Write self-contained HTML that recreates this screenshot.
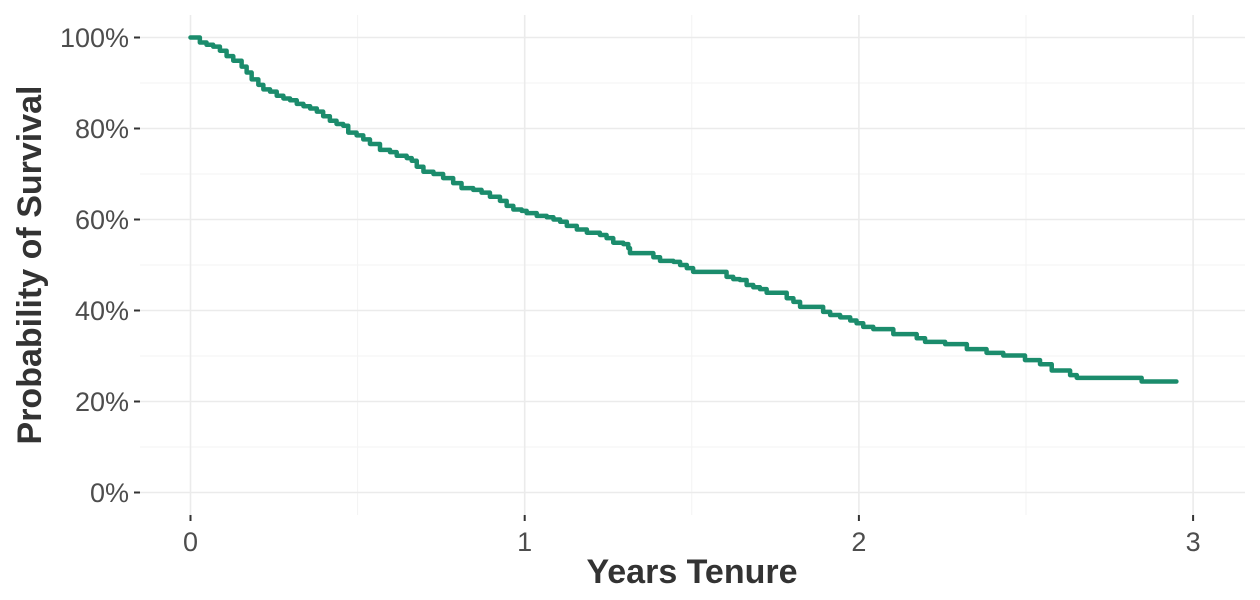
<!DOCTYPE html>
<html><head><meta charset="utf-8"><style>
html,body{margin:0;padding:0;background:#fff;width:1260px;height:600px;overflow:hidden}
text{font-family:"Liberation Sans",sans-serif}
</style></head><body>
<svg id="chart" width="1260" height="600" xmlns="http://www.w3.org/2000/svg">
<g id="grid"></g>
<g id="axes"></g>
<path id="curve" fill="none" stroke="#1B8C6C" stroke-width="4.5" stroke-linejoin="round" stroke-linecap="round"/>
<text x="692" y="583" text-anchor="middle" font-size="34" font-weight="bold" fill="#333">Years Tenure</text>
<text transform="translate(41,265) rotate(-90)" text-anchor="middle" font-size="34" font-weight="bold" fill="#333">Probability of Survival</text>
</svg>
<script>
const times=[0,.028,.048,.068,.088,.108,.128,.153,.168,.183,.203,.218,.238,.258,.278,.298,.318,.338,.358,.378,.397,.417,.437,.457,.472,.497,.517,.537,.567,.597,.617,.647,.662,.677,.697,.727,.756,.786,.811,.846,.871,.896,.926,.946,.966,.991,1.006,1.036,1.066,1.086,1.106,1.126,1.156,1.186,1.225,1.245,1.265,1.295,1.310,1.315,1.385,1.405,1.445,1.465,1.485,1.504,1.604,1.624,1.644,1.664,1.684,1.704,1.724,1.784,1.804,1.824,1.893,1.914,1.944,1.974,1.993,2.013,2.043,2.103,2.173,2.198,2.258,2.323,2.382,2.432,2.497,2.542,2.577,2.632,2.652,2.846];
const survival=[100,98.9,98.4,98.0,97.1,95.9,94.9,93.6,92.3,90.8,89.6,88.6,88.1,87.2,86.6,86.2,85.4,84.9,84.4,83.7,82.7,81.7,81.0,80.6,79.1,78.5,77.6,76.6,75.3,74.8,74.0,73.5,72.9,71.6,70.5,70.0,69.1,68.0,66.9,66.5,65.9,65.0,64.1,63.0,62.2,61.9,61.4,60.8,60.5,60.0,59.5,58.6,57.8,57.1,56.6,55.9,54.9,54.6,53.7,52.6,51.7,50.9,50.7,50.0,49.3,48.5,47.4,46.9,46.7,45.6,45.1,44.7,43.9,42.7,41.9,40.8,39.7,39.0,38.5,37.8,37.2,36.4,35.9,34.8,33.9,33.1,32.6,31.5,30.7,30.1,29.1,28.2,26.8,25.8,25.2,24.4];
const endTime=2.95;
const xTicks=[0,1,2,3];
const xMinor=[0.5,1.5,2.5];
const yTicks=[0,20,40,60,80,100];
const yMinor=[10,30,50,70,90];
const xs=t=>190.5+t*334.2;
const ys=v=>492.5-v*4.55;
const NS="http://www.w3.org/2000/svg";
const grid=document.getElementById('grid'),axes=document.getElementById('axes');
function line(p,x1,y1,x2,y2,c,w){const l=document.createElementNS(NS,'line');l.setAttribute('x1',x1);l.setAttribute('y1',y1);l.setAttribute('x2',x2);l.setAttribute('y2',y2);l.setAttribute('stroke',c);l.setAttribute('stroke-width',w);p.appendChild(l);return l;}
function txt(p,x,y,s,a){const t=document.createElementNS(NS,'text');t.setAttribute('x',x);t.setAttribute('y',y);t.setAttribute('text-anchor',a);t.setAttribute('font-size','27');t.setAttribute('fill','#4d4d4d');t.textContent=s;p.appendChild(t);return t;}
xMinor.forEach(t=>{const l=line(grid,xs(t),15,xs(t),515,'#f3f3f3',1);

});
yMinor.forEach(v=>{const l=line(grid,140,ys(v),1245,ys(v),'#f3f3f3',1);

});
xTicks.forEach(t=>{const l=line(grid,xs(t),15,xs(t),515,'#ebebeb',1.6);


const k=line(axes,xs(t),515,xs(t),521,'#333',2);


const s=txt(axes,xs(t),551,String(t),'middle');

});
yTicks.forEach(v=>{const l=line(grid,140,ys(v),1245,ys(v),'#ebebeb',1.6);


const k=line(axes,134,ys(v),140,ys(v),'#333',2);


const s=txt(axes,129,ys(v)+9.5,v+'%','end');

});
let d='M'+xs(times[0])+','+ys(survival[0]);
for(let i=1;i<times.length;i++){d+=' H'+xs(times[i])+' V'+ys(survival[i]);}
d+=' H'+xs(endTime);
document.getElementById('curve').setAttribute('d',d);
</script>
</body></html>
